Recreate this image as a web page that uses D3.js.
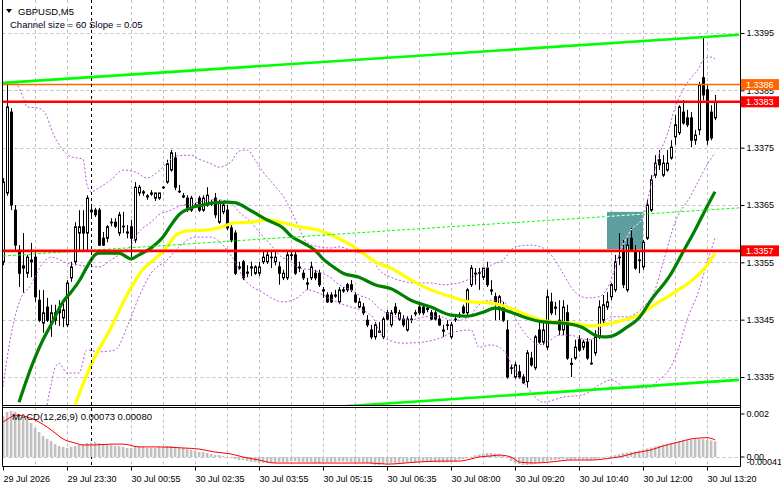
<!DOCTYPE html>
<html><head><meta charset="utf-8">
<script src="https://cdn.jsdelivr.net/npm/d3@7"></script>
<style>
body{margin:0;background:#fff}
svg{display:block}
text{font-family:"Liberation Sans",Arial,sans-serif}
</style>
</head><body>
<svg id="c" width="781" height="489"></svg>
<script>
// ---------------- DATA ----------------
const symbolTitle = "GBPUSD,M5";
const channelText = "Channel size = 60 Slope = 0.05";
const macdTitle = "MACD(12,26,9) 0.00073 0.00080";
const timeLabels = ["29 Jul 2026","29 Jul 23:30","30 Jul 00:55","30 Jul 02:35","30 Jul 03:55","30 Jul 05:15","30 Jul 06:35","30 Jul 08:00","30 Jul 09:20","30 Jul 10:40","30 Jul 12:00","30 Jul 13:20"];
const timeLabelBars = [0,16,32,48,64,80,96,112,128,144,160,176];
const priceTicks = [1.3335,1.3345,1.3355,1.3365,1.3375,1.3385,1.3395];
const separatorBar = 22;

const open = [1.33551,1.33671,1.33812,1.33641,1.33571,1.33540,1.33531,1.33551,1.33559,1.33484,
1.33444,1.33472,1.33444,1.33462,1.33472,1.33453,1.33441,1.33523,1.33551,1.33601,
1.33612,1.33601,1.33638,1.33641,1.33641,1.33592,1.33592,1.33620,1.33620,1.33601,
1.33612,1.33601,1.33612,1.33589,1.33671,1.33671,1.33664,1.33671,1.33662,1.33662,
1.33681,1.33690,1.33711,1.33732,1.33674,1.33666,1.33662,1.33641,1.33650,1.33662,
1.33641,1.33650,1.33654,1.33662,1.33620,1.33638,1.33641,1.33610,1.33601,1.33542,
1.33551,1.33531,1.33540,1.33531,1.33531,1.33551,1.33551,1.33559,1.33551,1.33542,
1.33523,1.33523,1.33563,1.33563,1.33542,1.33531,1.33514,1.33523,1.33531,1.33531,
1.33502,1.33493,1.33493,1.33493,1.33481,1.33502,1.33511,1.33511,1.33493,1.33472,
1.33472,1.33449,1.33432,1.33420,1.33430,1.33420,1.33462,1.33441,1.33472,1.33451,
1.33451,1.33432,1.33451,1.33462,1.33472,1.33472,1.33470,1.33462,1.33462,1.33451,
1.33432,1.33441,1.33420,1.33451,1.33458,1.33472,1.33462,1.33511,1.33531,1.33531,
1.33524,1.33540,1.33502,1.33490,1.33472,1.33472,1.33432,1.33366,1.33350,1.33359,
1.33350,1.33342,1.33383,1.33366,1.33432,1.33411,1.33402,1.33481,1.33472,1.33449,
1.33432,1.33462,1.33374,1.33383,1.33415,1.33402,1.33411,1.33374,1.33392,1.33420,
1.33449,1.33472,1.33490,1.33502,1.33559,1.33571,1.33502,1.33592,1.33571,1.33554,
1.33542,1.33592,1.33641,1.33702,1.33729,1.33702,1.33711,1.33732,1.33769,1.33776,
1.33812,1.33802,1.33802,1.33763,1.33781,1.33872,1.33851,1.33812,1.33802];

const high = [1.33697,1.33861,1.33819,1.33650,1.33580,1.33601,1.33563,1.33584,1.33571,1.33502,
1.33502,1.33488,1.33476,1.33476,1.33484,1.33484,1.33519,1.33551,1.33620,1.33641,
1.33641,1.33667,1.33650,1.33645,1.33645,1.33603,1.33615,1.33627,1.33627,1.33638,
1.33638,1.33615,1.33624,1.33690,1.33685,1.33676,1.33669,1.33676,1.33671,1.33671,
1.33683,1.33729,1.33746,1.33742,1.33685,1.33671,1.33667,1.33666,1.33654,1.33666,
1.33667,1.33681,1.33659,1.33671,1.33659,1.33654,1.33650,1.33615,1.33606,1.33551,
1.33554,1.33545,1.33551,1.33545,1.33551,1.33571,1.33571,1.33568,1.33568,1.33551,
1.33537,1.33571,1.33571,1.33571,1.33551,1.33537,1.33523,1.33551,1.33537,1.33537,
1.33507,1.33498,1.33498,1.33502,1.33507,1.33507,1.33514,1.33519,1.33498,1.33488,
1.33479,1.33458,1.33441,1.33446,1.33446,1.33455,1.33467,1.33467,1.33479,1.33467,
1.33458,1.33456,1.33458,1.33467,1.33479,1.33479,1.33476,1.33467,1.33467,1.33458,
1.33441,1.33449,1.33446,1.33458,1.33463,1.33476,1.33505,1.33545,1.33540,1.33540,
1.33540,1.33551,1.33519,1.33497,1.33493,1.33481,1.33449,1.33371,1.33376,1.33371,
1.33355,1.33397,1.33394,1.33423,1.33446,1.33446,1.33502,1.33497,1.33481,1.33484,
1.33484,1.33476,1.33383,1.33415,1.33423,1.33415,1.33418,1.33415,1.33432,1.33484,
1.33493,1.33498,1.33514,1.33563,1.33601,1.33589,1.33592,1.33610,1.33580,1.33568,
1.33589,1.33659,1.33702,1.33737,1.33746,1.33737,1.33746,1.33763,1.33807,1.33824,
1.33833,1.33816,1.33812,1.33781,1.33865,1.33941,1.33859,1.33824,1.33842];

const low = [1.33545,1.33666,1.33641,1.33571,1.33507,1.33497,1.33523,1.33524,1.33481,1.33446,
1.33427,1.33446,1.33420,1.33441,1.33439,1.33437,1.33437,1.33516,1.33545,1.33571,
1.33571,1.33568,1.33627,1.33629,1.33579,1.33579,1.33585,1.33613,1.33610,1.33596,
1.33601,1.33592,1.33559,1.33584,1.33666,1.33666,1.33659,1.33666,1.33657,1.33659,
1.33678,1.33687,1.33708,1.33676,1.33671,1.33662,1.33638,1.33638,1.33647,1.33638,
1.33638,1.33647,1.33648,1.33627,1.33617,1.33634,1.33606,1.33585,1.33528,1.33537,
1.33519,1.33524,1.33526,1.33528,1.33526,1.33547,1.33547,1.33540,1.33545,1.33511,
1.33519,1.33519,1.33554,1.33528,1.33533,1.33519,1.33502,1.33519,1.33519,1.33507,
1.33488,1.33479,1.33479,1.33488,1.33477,1.33497,1.33498,1.33498,1.33479,1.33470,
1.33458,1.33437,1.33416,1.33415,1.33427,1.33416,1.33449,1.33437,1.33458,1.33448,
1.33437,1.33429,1.33444,1.33456,1.33458,1.33458,1.33463,1.33449,1.33449,1.33439,
1.33420,1.33432,1.33416,1.33446,1.33453,1.33460,1.33458,1.33507,1.33511,1.33502,
1.33519,1.33507,1.33493,1.33449,1.33449,1.33446,1.33347,1.33355,1.33347,1.33347,
1.33338,1.33331,1.33368,1.33362,1.33408,1.33406,1.33397,1.33458,1.33458,1.33423,
1.33423,1.33380,1.33350,1.33380,1.33394,1.33397,1.33380,1.33371,1.33387,1.33416,
1.33444,1.33467,1.33484,1.33498,1.33545,1.33505,1.33498,1.33568,1.33537,1.33531,
1.33537,1.33589,1.33638,1.33697,1.33711,1.33699,1.33708,1.33729,1.33755,1.33772,
1.33790,1.33786,1.33751,1.33755,1.33772,1.33833,1.33755,1.33763,1.33798];

const close = [1.33690,1.33821,1.33650,1.33580,1.33531,1.33544,1.33559,1.33554,1.33490,1.33449,
1.33462,1.33449,1.33462,1.33449,1.33462,1.33467,1.33514,1.33542,1.33612,1.33612,
1.33601,1.33662,1.33641,1.33633,1.33580,1.33580,1.33612,1.33620,1.33613,1.33633,
1.33613,1.33603,1.33592,1.33681,1.33681,1.33673,1.33666,1.33669,1.33671,1.33671,
1.33680,1.33722,1.33741,1.33681,1.33673,1.33664,1.33645,1.33662,1.33648,1.33641,
1.33662,1.33667,1.33652,1.33633,1.33654,1.33650,1.33610,1.33589,1.33531,1.33540,
1.33523,1.33533,1.33542,1.33542,1.33542,1.33559,1.33563,1.33558,1.33559,1.33531,
1.33531,1.33563,1.33562,1.33531,1.33540,1.33523,1.33512,1.33542,1.33523,1.33511,
1.33500,1.33481,1.33481,1.33491,1.33502,1.33500,1.33502,1.33502,1.33481,1.33481,
1.33462,1.33441,1.33420,1.33441,1.33428,1.33451,1.33451,1.33462,1.33462,1.33462,
1.33441,1.33451,1.33450,1.33460,1.33462,1.33462,1.33468,1.33451,1.33451,1.33441,
1.33430,1.33440,1.33441,1.33450,1.33456,1.33462,1.33502,1.33540,1.33530,1.33532,
1.33540,1.33511,1.33500,1.33481,1.33490,1.33449,1.33350,1.33365,1.33371,1.33350,
1.33340,1.33392,1.33371,1.33420,1.33411,1.33432,1.33490,1.33462,1.33470,1.33432,
1.33472,1.33383,1.33372,1.33402,1.33397,1.33411,1.33383,1.33373,1.33420,1.33472,
1.33476,1.33481,1.33511,1.33551,1.33558,1.33511,1.33580,1.33571,1.33540,1.33553,
1.33585,1.33650,1.33694,1.33723,1.33720,1.33723,1.33723,1.33751,1.33790,1.33821,
1.33793,1.33790,1.33763,1.33772,1.33859,1.33842,1.33763,1.33767,1.33830];

// dark-green moving average (sampled bars / values)
const greenMaBars = [4,7,10,12,15,17,19,21,23,24,29,31,32,34,37,40,42,44,47,50,53,56,58,62,66,70,72,75,78,80,83,85,89,93,97,102,107,112,116,120,123,127,130,135,140,145,148,150,152,156,159,162,167,170,173,176,178];
const greenMaVals = [1.33306,1.33366,1.33415,1.33441,1.33481,1.33498,1.33517,1.33542,1.33563,1.33566,1.33566,1.33559,1.33556,1.33563,1.33575,1.33594,1.33615,1.33633,1.33645,1.33650,1.33654,1.33655,1.33654,1.33640,1.33624,1.33610,1.33596,1.33584,1.33571,1.33556,1.33540,1.33531,1.33524,1.33511,1.33504,1.33484,1.33472,1.33458,1.33456,1.33463,1.33470,1.33463,1.33455,1.33446,1.33444,1.33436,1.33423,1.33420,1.33421,1.33437,1.33453,1.33484,1.33530,1.33568,1.33606,1.33647,1.33673];

// yellow moving average
const yellowMaBars = [18,22,27,31,35,38,41,43,46,50,54,58,62,66,70,74,79,82,87,90,93,97,102,107,112,117,122,127,132,137,142,147,150,156,159,162,168,173,176,178];
const yellowMaVals = [1.33301,1.33371,1.33436,1.33493,1.33538,1.33556,1.33577,1.33596,1.33605,1.33606,1.33610,1.33619,1.33620,1.33624,1.33619,1.33612,1.33606,1.33598,1.33580,1.33566,1.33551,1.33540,1.33519,1.33502,1.33490,1.33481,1.33479,1.33470,1.33455,1.33446,1.33444,1.33439,1.33441,1.33451,1.33458,1.33472,1.33498,1.33523,1.33545,1.33566];

// bands (dotted violet)
const bandUpBars = [1,3,5,6,9,11,12,15,17,20,21,22,24,27,30,33,36,38,41,43,47,49,52,54,57,59,61,63,65,68,70,72,74,76,79,82,84,87,90,92,94,97,100,103,107,110,114,116,119,122,125,128,132,135,137,140,142,146,149,152,154,157,160,162,164,166,168,170,172,174,175,177,178];
const bandUpVals = [1.33863,1.33863,1.33838,1.33821,1.33819,1.33804,1.33784,1.33746,1.33734,1.33730,1.33685,1.33673,1.33680,1.33694,1.33711,1.33708,1.33697,1.33704,1.33723,1.33735,1.33737,1.33730,1.33722,1.33716,1.33725,1.33744,1.33746,1.33729,1.33708,1.33683,1.33666,1.33641,1.33610,1.33584,1.33577,1.33575,1.33577,1.33571,1.33564,1.33558,1.33537,1.33524,1.33517,1.33514,1.33514,1.33511,1.33514,1.33519,1.33531,1.33545,1.33554,1.33577,1.33580,1.33575,1.33563,1.33531,1.33507,1.33488,1.33490,1.33519,1.33563,1.33606,1.33629,1.33685,1.33737,1.33772,1.33819,1.33851,1.33872,1.33889,1.33903,1.33908,1.33905];
const bandMidBars = [0,2,4,7,10,12,16,19,24,27,29,32,34,37,39,42,44,47,49,52,54,57,59,62,64,67,69,72,74,77,79,82,84,87,89,92,94,97,99,102,104,107,109,112,114,117,119,122,124,127,129,132,134,137,139,142,144,147,149,152,156,160,163,165,168,172,174,176,178];
const bandMidVals = [1.33333,1.33423,1.33479,1.33511,1.33549,1.33559,1.33549,1.33545,1.33542,1.33554,1.33563,1.33580,1.33603,1.33620,1.33633,1.33641,1.33648,1.33652,1.33655,1.33659,1.33659,1.33654,1.33638,1.33620,1.33603,1.33580,1.33563,1.33551,1.33540,1.33537,1.33533,1.33523,1.33511,1.33502,1.33493,1.33484,1.33470,1.33458,1.33453,1.33449,1.33453,1.33456,1.33456,1.33449,1.33449,1.33458,1.33476,1.33484,1.33484,1.33467,1.33441,1.33415,1.33406,1.33415,1.33423,1.33423,1.33418,1.33415,1.33432,1.33455,1.33455,1.33472,1.33502,1.33549,1.33619,1.33667,1.33694,1.33720,1.33741];
const bandLowBars = [11,12,13,14,16,19,21,24,28,31,34,37,41,44,48,52,55,58,60,65,70,74,76,80,84,87,92,95,100,105,110,112,117,119,122,125,128,131,135,140,145,149,152,156,161,164,167,169,171,174,176,178];
const bandLowVals = [1.33301,1.33336,1.33366,1.33374,1.33357,1.33357,1.33397,1.33394,1.33397,1.33437,1.33490,1.33531,1.33554,1.33577,1.33594,1.33594,1.33580,1.33551,1.33524,1.33497,1.33481,1.33490,1.33502,1.33493,1.33479,1.33472,1.33458,1.33420,1.33409,1.33411,1.33420,1.33427,1.33432,1.33402,1.33406,1.33397,1.33362,1.33333,1.33306,1.33315,1.33319,1.33336,1.33345,1.33331,1.33331,1.33345,1.33368,1.33402,1.33449,1.33502,1.33549,1.33592];

// equidistant channel (two anchor bars)
const channelBars = [0,184];
const channelTop = [1.33863,1.33947];
const channelMid = [1.33561,1.33645];
const channelBottom = [1.33259,1.33345];

// horizontal levels
const orangeLevel = 1.3386;
const redLevels = [1.3383,1.3357];

// rectangle object
const boxBars = [151,160];
const boxPrices = [1.33573,1.33638];

// MACD histogram and signal
const macdHist = [0.0019,0.0021,0.00215,0.0021,0.0020,0.00181,0.00172,0.00158,0.00135,0.00116,
0.00098,0.00084,0.00074,0.00060,0.00051,0.00047,0.00042,0.00047,0.00051,0.00056,
0.00060,0.00065,0.00065,0.00070,0.00065,0.00060,0.00060,0.00056,0.00051,0.00051,
0.00047,0.00042,0.00042,0.00047,0.00047,0.00047,0.00042,0.00042,0.00042,0.00047,
0.00047,0.00051,0.00051,0.00047,0.00042,0.00042,0.00037,0.00033,0.00028,0.00023,
0.00023,0.00019,0.00014,0.00009,0.00009,0.00005,0.00000,-0.00005,-0.00009,-0.00014,
-0.00014,-0.00019,-0.00023,-0.00023,-0.00028,-0.00028,-0.00028,-0.00028,-0.00028,-0.00023,
-0.00023,-0.00023,-0.00019,-0.00019,-0.00023,-0.00023,-0.00023,-0.00023,-0.00028,-0.00028,
-0.00023,-0.00023,-0.00025,-0.00023,-0.00021,-0.00021,-0.00021,-0.00023,-0.00025,-0.00025,
-0.00026,-0.00028,-0.00033,-0.00037,-0.00037,-0.00033,-0.00028,-0.00028,-0.00028,-0.00027,
-0.00028,-0.00027,-0.00026,-0.00025,-0.00025,-0.00023,-0.00023,-0.00024,-0.00025,-0.00026,
-0.00026,-0.00025,-0.00023,-0.00021,-0.00012,-0.00009,-0.00005,0.00002,0.00008,0.00012,
0.00016,0.00019,0.00019,0.00016,0.00012,0.00005,-0.00005,-0.00019,-0.00028,-0.00033,
-0.00037,-0.00037,-0.00035,-0.00030,-0.00026,-0.00023,-0.00019,-0.00016,-0.00014,-0.00012,
-0.00010,-0.00012,-0.00014,-0.00012,-0.00012,-0.00012,-0.00014,-0.00012,-0.00010,-0.00006,
-0.00002,0.00002,0.00005,0.00009,0.00014,0.00019,0.00021,0.00023,0.00026,0.00030,
0.00035,0.00040,0.00044,0.00049,0.00053,0.00058,0.00062,0.00065,0.00070,0.00074,
0.00077,0.00079,0.00081,0.00083,0.00084,0.00083,0.00080,0.00077,0.00073];
const signalBars = [0,2,3,5,8,11,13,15,18,20,23,27,30,34,39,45,49,53,57,60,64,68,72,82,92,96,104,109,114,117,119,122,124,127,129,133,137,142,147,152,154,158,162,165,169,172,174,176,177,178];
const signalVals = [0.00163,0.00186,0.00195,0.00191,0.00172,0.00140,0.00112,0.00084,0.00065,0.00056,0.00056,0.00060,0.00060,0.00047,0.00047,0.00042,0.00037,0.00023,0.00014,0.00000,-0.00014,-0.00028,-0.00028,-0.00028,-0.00028,-0.00033,-0.00023,-0.00019,-0.00019,-0.00009,0.00000,0.00005,0.00009,0.00000,-0.00023,-0.00028,-0.00023,-0.00014,-0.00014,-0.00005,0.00000,0.00019,0.00033,0.00051,0.00070,0.00084,0.00088,0.00090,0.00087,0.00080];
const macdTickVals = [0.002,0,-0.00041];
const macdTickText = ["0.002","0.00","-0.00041"];

// ---------------- DRAW ----------------
const W = 781, H = 489;
const plotL = 2.5, plotR = 740.5, mainBot = 405.5, macdTop = 407.5, macdBot = 466.5;
const svg = d3.select("#c");
const x = d3.scaleLinear().domain([0,178]).range([3,715]);
const y = d3.scaleLinear().domain([1.3335,1.3395]).range([377,33]);
const yM = d3.scaleLinear().domain([0,0.002]).range([457,414]);

svg.append("rect").attr("width",W).attr("height",H).attr("fill","#fff");
const defs = svg.append("defs");
defs.append("clipPath").attr("id","mainClip").append("rect")
  .attr("x",plotL).attr("y",0).attr("width",plotR-plotL).attr("height",mainBot);
defs.append("clipPath").attr("id","macdClip").append("rect")
  .attr("x",plotL).attr("y",macdTop).attr("width",plotR-plotL).attr("height",macdBot-macdTop);
const bx0 = x(boxBars[0]), bx1 = x(boxBars[1]), by0 = y(boxPrices[1]), by1 = y(boxPrices[0]);
defs.append("clipPath").attr("id","boxClip").append("rect")
  .attr("x",bx0).attr("y",by0).attr("width",bx1-bx0).attr("height",by1-by0);

const grid = svg.append("g");
// vertical grid every 8 bars
d3.range(8,180,8).filter(b => b !== 24).forEach(b => {
  const gx = Math.round(x(b)) + 0.5;
  grid.append("line").attr("x1",gx).attr("x2",gx).attr("y1",0).attr("y2",mainBot)
    .attr("stroke","#c0c0c0").attr("stroke-dasharray","3,3");
  grid.append("line").attr("x1",gx).attr("x2",gx).attr("y1",macdTop).attr("y2",macdBot)
    .attr("stroke","#c0c0c0").attr("stroke-dasharray","3,3");
});
priceTicks.forEach(p => {
  const gy = Math.round(y(p)) + 0.5;
  grid.append("line").attr("x1",plotL).attr("x2",plotR).attr("y1",gy).attr("y2",gy)
    .attr("stroke","#c0c0c0").attr("stroke-dasharray","3,3");
});
// MACD zero level
grid.append("line").attr("x1",plotL).attr("x2",plotR).attr("y1",Math.round(yM(0))+0.5).attr("y2",Math.round(yM(0))+0.5)
  .attr("stroke","#c0c0c0").attr("stroke-dasharray","3,3");

// rectangle object (background)
const main = svg.append("g").attr("clip-path","url(#mainClip)");
main.append("rect").attr("x",bx0).attr("y",by0).attr("width",bx1-bx0).attr("height",by1-by0)
  .attr("fill","#5f9ea0");

// period separator
const sx = Math.round(x(separatorBar)) + 0.5;
svg.append("line").attr("x1",sx).attr("x2",sx).attr("y1",0).attr("y2",macdBot)
  .attr("stroke","#000").attr("stroke-dasharray","3,3");

// candles
const bars = d3.range(open.length);
const cg = main.append("g");
cg.selectAll("line.wick").data(bars).join("line")
  .attr("x1",i => Math.round(x(i))+0.5).attr("x2",i => Math.round(x(i))+0.5)
  .attr("y1",i => y(high[i])).attr("y2",i => y(low[i]))
  .attr("stroke","#000").attr("stroke-width",1);
cg.selectAll("rect.body").data(bars).join("rect")
  .attr("x",i => Math.round(x(i))-0.5)
  .attr("y",i => Math.min(y(open[i]),y(close[i])))
  .attr("width",2)
  .attr("height",i => Math.max(0.6,Math.abs(y(open[i])-y(close[i]))))
  .attr("fill",i => close[i] >= open[i] ? "#fff" : "#000")
  .attr("stroke","#000").attr("stroke-width",1);

// bands
const pts = (bs,vs) => bs.map((b,k) => [b,vs[k]]);
const smooth = d3.line().x(d => x(d[0])).y(d => y(d[1])).curve(d3.curveMonotoneX);
[[bandUpBars,bandUpVals],[bandMidBars,bandMidVals],[bandLowBars,bandLowVals]].forEach(([bs,vs]) => {
  main.append("path").attr("d",smooth(pts(bs,vs))).attr("fill","none")
    .attr("stroke","#bb55dd").attr("stroke-width",1).attr("stroke-dasharray","2,2");
});

// moving averages
main.append("path").attr("d",smooth(pts(yellowMaBars,yellowMaVals))).attr("fill","none")
  .attr("stroke","#ffff00").attr("stroke-width",3.2);
main.append("path").attr("d",smooth(pts(greenMaBars,greenMaVals))).attr("fill","none")
  .attr("stroke","#008000").attr("stroke-width",3.2);

// channel
const straight = d3.line().x(d => x(d[0])).y(d => y(d[1]));
main.append("path").attr("d",straight(pts(channelBars,channelTop))).attr("stroke","#00ff00").attr("stroke-width",2.6).attr("fill","none");
main.append("path").attr("d",straight(pts(channelBars,channelBottom))).attr("stroke","#00ff00").attr("stroke-width",2.6).attr("fill","none");
main.append("path").attr("d",straight(pts(channelBars,channelMid))).attr("stroke","#00ff00").attr("stroke-width",1).attr("stroke-dasharray","3,2").attr("fill","none");
// lines inside rectangle appear white
const inBox = svg.append("g").attr("clip-path","url(#boxClip)");
inBox.append("path").attr("d",straight(pts(channelBars,channelMid))).attr("stroke","#fff").attr("stroke-width",1).attr("stroke-dasharray","3,2").attr("fill","none");
inBox.append("path").attr("d",smooth(pts(bandUpBars,bandUpVals))).attr("stroke","#fff").attr("stroke-width",1).attr("stroke-dasharray","2,2").attr("fill","none");

// horizontal levels
const hl = (p,col,w) => main.append("line").attr("x1",plotL).attr("x2",plotR)
  .attr("y1",y(p)).attr("y2",y(p)).attr("stroke",col).attr("stroke-width",w);
hl(orangeLevel,"#ff6600",1.5);
redLevels.forEach(p => hl(p,"#ff0000",2.6));

// MACD histogram
const mg = svg.append("g").attr("clip-path","url(#macdClip)");
mg.selectAll("rect").data(bars).join("rect")
  .attr("x",i => x(i)-1.2).attr("width",2.6)
  .attr("y",i => Math.min(yM(0),yM(macdHist[i])))
  .attr("height",i => Math.abs(yM(macdHist[i])-yM(0)))
  .attr("fill","#c0c0c0");
const mline = d3.line().x(d => x(d[0])).y(d => yM(d[1])).curve(d3.curveMonotoneX);
mg.append("path").attr("d",mline(pts(signalBars,signalVals))).attr("fill","none")
  .attr("stroke","#ff0000").attr("stroke-width",1);

// frames
const fr = svg.append("g").attr("stroke","#000").attr("stroke-width",1).attr("fill","none");
fr.append("line").attr("x1",plotL).attr("x2",plotL).attr("y1",0).attr("y2",macdBot);
fr.append("line").attr("x1",plotR).attr("x2",plotR).attr("y1",0).attr("y2",macdBot);
fr.append("line").attr("x1",plotL).attr("x2",plotR).attr("y1",mainBot).attr("y2",mainBot);
fr.append("line").attr("x1",plotL).attr("x2",plotR).attr("y1",macdTop).attr("y2",macdTop);
fr.append("line").attr("x1",plotL).attr("x2",plotR).attr("y1",macdBot).attr("y2",macdBot);

// price axis
const ya = svg.append("g").attr("transform",`translate(${plotR},0)`)
  .call(d3.axisRight(y).tickValues(priceTicks).tickSize(4).tickFormat(d3.format(".4f")));
ya.select(".domain").remove();
ya.selectAll("text").attr("font-size",9).attr("fill","#000").attr("font-family","Liberation Sans, Arial, sans-serif").attr("x",6);
ya.selectAll("line").attr("stroke","#000");

// time axis
const xa = svg.append("g").attr("transform",`translate(0,${macdBot})`)
  .call(d3.axisBottom(x).tickValues(timeLabelBars).tickSize(4).tickFormat((d,i) => timeLabels[i]));
xa.select(".domain").remove();
xa.selectAll("text").attr("font-size",9).attr("fill","#000").attr("text-anchor","start")
  .attr("font-family","Liberation Sans, Arial, sans-serif").attr("y",9).attr("dy","0.71em");
xa.selectAll("line").attr("stroke","#000");

// MACD scale labels
macdTickVals.forEach((v,k) => {
  const ty = k === 2 ? 465 : yM(v) + 3.3;
  svg.append("text").attr("x",plotR+6).attr("y",ty).attr("font-size",9).text(macdTickText[k]);
  if (k < 2) svg.append("line").attr("x1",plotR).attr("x2",plotR+4).attr("y1",yM(v)).attr("y2",yM(v)).attr("stroke","#000");
});

// level labels (boxes)
const levelBox = (p,col) => {
  const cy = y(p);
  svg.append("rect").attr("x",741).attr("y",cy-5.5).attr("width",38).attr("height",11).attr("fill",col);
  svg.append("text").attr("x",746).attr("y",cy+3.3).attr("font-size",9).attr("fill","#fff").text(d3.format(".4f")(p));
};
levelBox(orangeLevel,"#ff6600");
redLevels.forEach(p => levelBox(p,"#ff0000"));

// header
svg.append("path").attr("d","M6,9 L12,9 L9,13 Z").attr("fill","#000");
svg.append("text").attr("x",18).attr("y",14.5).attr("font-size",9.5).attr("fill","#000").text(symbolTitle);
svg.append("text").attr("x",10).attr("y",27.5).attr("font-size",9.5).attr("fill","#000022").text(channelText);
svg.append("text").attr("x",12).attr("y",420).attr("font-size",9.5).attr("fill","#000").text(macdTitle);
</script>
</body></html>
